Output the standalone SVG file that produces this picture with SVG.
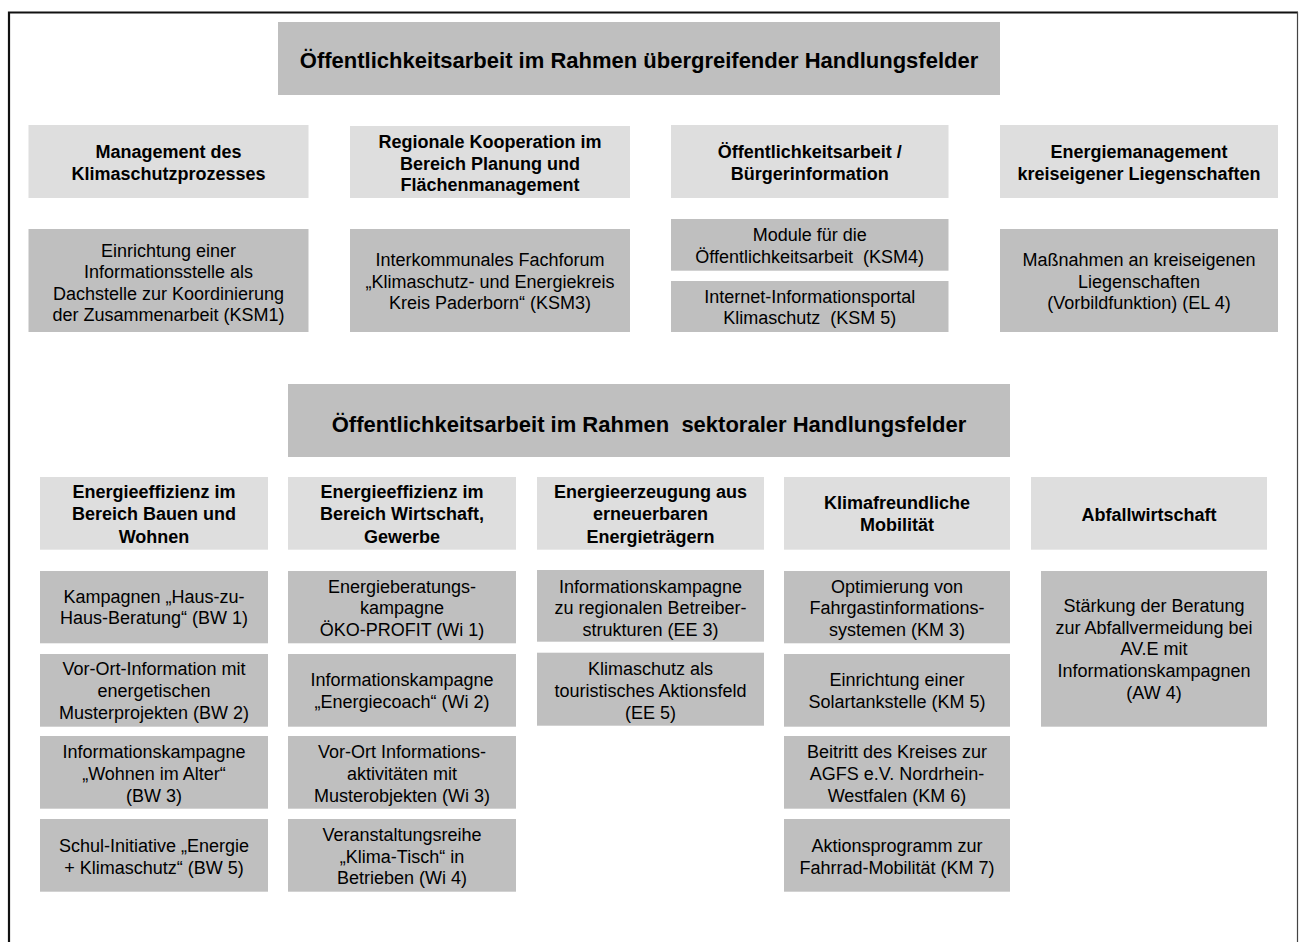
<svg xmlns="http://www.w3.org/2000/svg" width="1305" height="942" viewBox="0 0 1305 942">
<style>
.dk{fill:#bfbfbf}
.lt{fill:#dedede}
text{font-family:"Liberation Sans",Arial,Helvetica,sans-serif;fill:#000;text-anchor:middle}
.t{font-size:18px}
.b{font-size:18px;font-weight:bold}
.h{font-size:22px;font-weight:bold}
</style>
<rect x="0" y="0" width="1305" height="942" fill="#ffffff"/>
<g id="frame">
<path d="M9,955 V12.5 H1298" fill="none" stroke="#111" stroke-width="2.2"/>
<line x1="1297.5" y1="12" x2="1297.5" y2="955" stroke="#444" stroke-width="1.2"/>
</g>

<g id="header-uebergreifend">
<rect class="dk" x="278" y="22" width="722" height="73"/>
<text class="h" x="639" y="67.5">Öffentlichkeitsarbeit im Rahmen übergreifender Handlungsfelder</text>
</g>

<g id="cat-management">
<rect class="lt" x="28.5" y="125" width="280" height="73"/>
<text class="b" x="168.5"><tspan x="168.5" y="158">Management des</tspan><tspan x="168.5" y="180">Klimaschutzprozesses</tspan></text>
</g>
<g id="cat-regional">
<rect class="lt" x="350" y="126" width="280" height="72"/>
<text class="b" x="490"><tspan x="490" y="147.5">Regionale Kooperation im</tspan><tspan x="490" y="169.5">Bereich Planung und</tspan><tspan x="490" y="191">Flächenmanagement</tspan></text>
</g>
<g id="cat-oeffentlichkeit">
<rect class="lt" x="671" y="125" width="277.5" height="73"/>
<text class="b" x="809.7"><tspan x="809.7" y="158">Öffentlichkeitsarbeit /</tspan><tspan x="809.7" y="180">Bürgerinformation</tspan></text>
</g>
<g id="cat-energiemanagement">
<rect class="lt" x="1000" y="125" width="278" height="73"/>
<text class="b" x="1139"><tspan x="1139" y="158">Energiemanagement</tspan><tspan x="1139" y="180">kreiseigener Liegenschaften</tspan></text>
</g>

<g id="ksm1">
<rect class="dk" x="28.5" y="229" width="280" height="103"/>
<text class="t" x="168.5"><tspan x="168.5" y="257">Einrichtung einer</tspan><tspan x="168.5" y="278.3">Informationsstelle als</tspan><tspan x="168.5" y="299.6">Dachstelle zur Koordinierung</tspan><tspan x="168.5" y="321">der Zusammenarbeit (KSM1)</tspan></text>
</g>
<g id="ksm3">
<rect class="dk" x="350" y="229" width="280" height="103"/>
<text class="t" x="490"><tspan x="490" y="266">Interkommunales Fachforum</tspan><tspan x="490" y="287.7">„Klimaschutz- und Energiekreis</tspan><tspan x="490" y="309.4">Kreis Paderborn“ (KSM3)</tspan></text>
</g>
<g id="ksm4">
<rect class="dk" x="671" y="219" width="277.5" height="51.7"/>
<text class="t" x="809.7"><tspan x="809.7" y="241">Module für die</tspan><tspan x="809.7" y="262.7">Öffentlichkeitsarbeit&#160; (KSM4)</tspan></text>
</g>
<g id="ksm5">
<rect class="dk" x="671" y="281" width="277.5" height="51"/>
<text class="t" x="809.7"><tspan x="809.7" y="302.7">Internet-Informationsportal</tspan><tspan x="809.7" y="324.3">Klimaschutz&#160; (KSM 5)</tspan></text>
</g>
<g id="el4">
<rect class="dk" x="1000" y="229" width="278" height="103"/>
<text class="t" x="1139"><tspan x="1139" y="266">Maßnahmen an kreiseigenen</tspan><tspan x="1139" y="287.7">Liegenschaften</tspan><tspan x="1139" y="309.4">(Vorbildfunktion) (EL 4)</tspan></text>
</g>

<g id="header-sektoral">
<rect class="dk" x="288" y="384" width="722" height="73"/>
<text class="h" x="649" y="432">Öffentlichkeitsarbeit im Rahmen&#160; sektoraler Handlungsfelder</text>
</g>

<g id="cat-bauen">
<rect class="lt" x="40" y="477" width="228" height="72.7"/>
<text class="b" x="154"><tspan x="154" y="498.3">Energieeffizienz im</tspan><tspan x="154" y="520.3">Bereich Bauen und</tspan><tspan x="154" y="542.5">Wohnen</tspan></text>
</g>
<g id="cat-wirtschaft">
<rect class="lt" x="288" y="477" width="228" height="72.7"/>
<text class="b" x="402"><tspan x="402" y="498.3">Energieeffizienz im</tspan><tspan x="402" y="520.3">Bereich Wirtschaft,</tspan><tspan x="402" y="542.5">Gewerbe</tspan></text>
</g>
<g id="cat-erneuerbar">
<rect class="lt" x="537" y="477" width="227" height="72.7"/>
<text class="b" x="650.5"><tspan x="650.5" y="498.3">Energieerzeugung aus</tspan><tspan x="650.5" y="520.3">erneuerbaren</tspan><tspan x="650.5" y="542.5">Energieträgern</tspan></text>
</g>
<g id="cat-mobilitaet">
<rect class="lt" x="784" y="477" width="226" height="72.7"/>
<text class="b" x="897"><tspan x="897" y="509">Klimafreundliche</tspan><tspan x="897" y="531">Mobilität</tspan></text>
</g>
<g id="cat-abfall">
<rect class="lt" x="1031" y="477" width="236" height="72.7"/>
<text class="b" x="1149" y="521">Abfallwirtschaft</text>
</g>

<g id="bw1">
<rect class="dk" x="40" y="571" width="228" height="72.3"/>
<text class="t" x="154"><tspan x="154" y="602.7">Kampagnen „Haus-zu-</tspan><tspan x="154" y="624.3">Haus-Beratung“ (BW 1)</tspan></text>
</g>
<g id="bw2">
<rect class="dk" x="40" y="654" width="228" height="72.7"/>
<text class="t" x="154"><tspan x="154" y="675.3">Vor-Ort-Information mit</tspan><tspan x="154" y="697">energetischen</tspan><tspan x="154" y="718.7">Musterprojekten (BW 2)</tspan></text>
</g>
<g id="bw3">
<rect class="dk" x="40" y="736" width="228" height="72.7"/>
<text class="t" x="154"><tspan x="154" y="758.3">Informationskampagne</tspan><tspan x="154" y="780">„Wohnen im Alter“</tspan><tspan x="154" y="801.7">(BW 3)</tspan></text>
</g>
<g id="bw5">
<rect class="dk" x="40" y="819" width="228" height="72.7"/>
<text class="t" x="154"><tspan x="154" y="852">Schul-Initiative „Energie</tspan><tspan x="154" y="873.7">+ Klimaschutz“ (BW 5)</tspan></text>
</g>

<g id="wi1">
<rect class="dk" x="288" y="571" width="228" height="72.3"/>
<text class="t" x="402"><tspan x="402" y="592.7">Energieberatungs-</tspan><tspan x="402" y="614.3">kampagne</tspan><tspan x="402" y="636">ÖKO-PROFIT (Wi 1)</tspan></text>
</g>
<g id="wi2">
<rect class="dk" x="288" y="654" width="228" height="72.7"/>
<text class="t" x="402"><tspan x="402" y="686">Informationskampagne</tspan><tspan x="402" y="707.7">„Energiecoach“ (Wi 2)</tspan></text>
</g>
<g id="wi3">
<rect class="dk" x="288" y="736" width="228" height="72.7"/>
<text class="t" x="402"><tspan x="402" y="758.3">Vor-Ort Informations-</tspan><tspan x="402" y="780">aktivitäten mit</tspan><tspan x="402" y="801.7">Musterobjekten (Wi 3)</tspan></text>
</g>
<g id="wi4">
<rect class="dk" x="288" y="819" width="228" height="72.7"/>
<text class="t" x="402"><tspan x="402" y="841">Veranstaltungsreihe</tspan><tspan x="402" y="862.7">„Klima-Tisch“ in</tspan><tspan x="402" y="884.3">Betrieben (Wi 4)</tspan></text>
</g>

<g id="ee3">
<rect class="dk" x="537" y="570" width="227" height="71.7"/>
<text class="t" x="650.5"><tspan x="650.5" y="592.5">Informationskampagne</tspan><tspan x="650.5" y="614">zu regionalen Betreiber-</tspan><tspan x="650.5" y="636">strukturen (EE 3)</tspan></text>
</g>
<g id="ee5">
<rect class="dk" x="537" y="652.7" width="227" height="73"/>
<text class="t" x="650.5"><tspan x="650.5" y="675.3">Klimaschutz als</tspan><tspan x="650.5" y="697">touristisches Aktionsfeld</tspan><tspan x="650.5" y="718.7">(EE 5)</tspan></text>
</g>

<g id="km3">
<rect class="dk" x="784" y="571" width="226" height="72.3"/>
<text class="t" x="897"><tspan x="897" y="592.5">Optimierung von</tspan><tspan x="897" y="614">Fahrgastinformations-</tspan><tspan x="897" y="636">systemen (KM 3)</tspan></text>
</g>
<g id="km5">
<rect class="dk" x="784" y="654" width="226" height="72.7"/>
<text class="t" x="897"><tspan x="897" y="686">Einrichtung einer</tspan><tspan x="897" y="707.7">Solartankstelle (KM 5)</tspan></text>
</g>
<g id="km6">
<rect class="dk" x="784" y="736" width="226" height="72.7"/>
<text class="t" x="897"><tspan x="897" y="758.3">Beitritt des Kreises zur</tspan><tspan x="897" y="780">AGFS e.V. Nordrhein-</tspan><tspan x="897" y="801.7">Westfalen (KM 6)</tspan></text>
</g>
<g id="km7">
<rect class="dk" x="784" y="819" width="226" height="72.7"/>
<text class="t" x="897"><tspan x="897" y="852">Aktionsprogramm zur</tspan><tspan x="897" y="873.7">Fahrrad-Mobilität (KM 7)</tspan></text>
</g>

<g id="aw4">
<rect class="dk" x="1041" y="571" width="226" height="155.7"/>
<text class="t" x="1154"><tspan x="1154" y="612">Stärkung der Beratung</tspan><tspan x="1154" y="633.7">zur Abfallvermeidung bei</tspan><tspan x="1154" y="655.4">AV.E mit</tspan><tspan x="1154" y="677.1">Informationskampagnen</tspan><tspan x="1154" y="698.8">(AW 4)</tspan></text>
</g>
</svg>
